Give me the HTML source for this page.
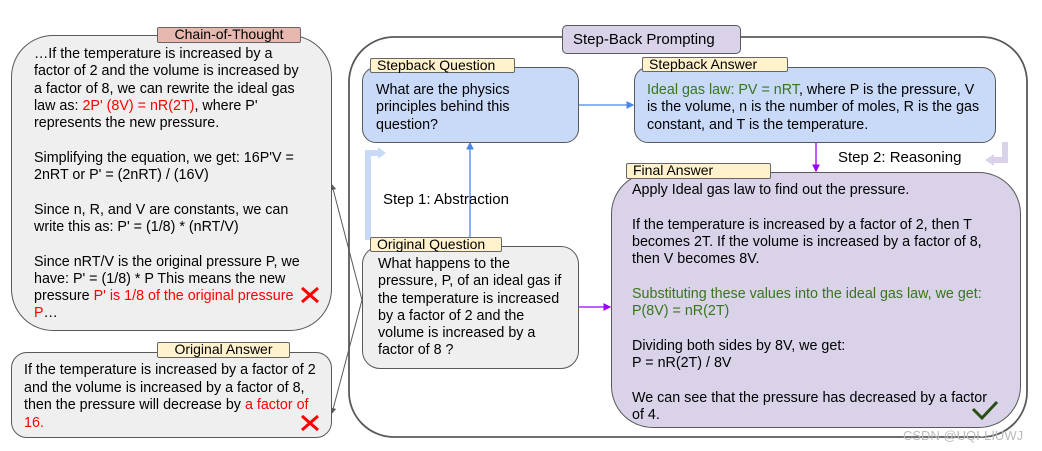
<!DOCTYPE html>
<html><head><meta charset="utf-8"><style>
body{margin:0;width:1042px;height:451px;background:#fff;position:relative;overflow:hidden;font-family:"Liberation Sans",Arial,sans-serif;font-size:14.3px;color:#000}
.b{position:absolute;box-sizing:border-box;border:1.5px solid #595959}
.t{position:absolute;line-height:17.3px;white-space:nowrap;margin-top:2px}
.lab{position:absolute;box-sizing:border-box;border:1.3px solid #666;background:#fff2cc;font-size:14px;line-height:13px;padding-left:6px;border-radius:2px}
.r{color:#f00}.g{color:#38761d}
svg.top{z-index:5}
</style></head><body>
<svg width="1042" height="451" style="position:absolute;left:0;top:0">
<defs>
<marker id="ab" markerWidth="6" markerHeight="6" refX="5" refY="3" orient="auto"><path d="M0,0L6,3L0,6z" fill="#4a86e8"/></marker>
<marker id="ap" markerWidth="6" markerHeight="6" refX="5" refY="3" orient="auto"><path d="M0,0L6,3L0,6z" fill="#9900ff"/></marker>
<marker id="ag" markerWidth="6" markerHeight="6" refX="5" refY="3" orient="auto"><path d="M0,0L6,3L0,6z" fill="#595959"/></marker>
</defs>
<rect x="349" y="37" width="678" height="400" rx="45" fill="none" stroke="#595959" stroke-width="1.8"/>
<line x1="578" y1="105" x2="633" y2="105" stroke="#4a86e8" stroke-width="1.3" marker-end="url(#ab)"/>
<line x1="470" y1="246" x2="470" y2="143" stroke="#4a86e8" stroke-width="1.3" marker-end="url(#ab)"/>
<line x1="816" y1="143" x2="816" y2="171" stroke="#9900ff" stroke-width="1.3" marker-end="url(#ap)"/>
<line x1="579" y1="307" x2="610" y2="307" stroke="#9900ff" stroke-width="1.3" marker-end="url(#ap)"/>
<path d="M368,240 V153 H380" fill="none" stroke="#c9daf8" stroke-width="6"/>
<path d="M378,147 L386,153 L378,159z" fill="#c9daf8"/>
<path d="M1005,142 V160 H992" fill="none" stroke="#d9d2e9" stroke-width="6"/>
<path d="M994,154 L985,160 L994,166z" fill="#d9d2e9"/>
<line x1="362" y1="300" x2="332" y2="185" stroke="#595959" stroke-width="1" marker-end="url(#ag)"/>
<line x1="362" y1="300" x2="332" y2="413" stroke="#595959" stroke-width="1" marker-end="url(#ag)"/>
</svg>
<div class="b" style="left:11px;top:35px;width:321px;height:296px;border-radius:42px;background:#efefef"></div>
<div class="lab" style="left:157px;top:27px;width:144px;height:16px;background:#e6b8af;text-align:center;padding:0">Chain-of-Thought</div>
<div class="t" style="left:34px;top:44px">…If the temperature is increased by a<br>factor of 2 and the volume is increased by<br>a factor of 8, we can rewrite the ideal gas<br>law as: <span class="r">2P' (8V) = nR(2T)</span>, where P'<br>represents the new pressure.<br><br>Simplifying the equation, we get: 16P'V =<br>2nRT or P' = (2nRT) / (16V)<br><br>Since n, R, and V are constants, we can<br>write this as: P' = (1/8) * (nRT/V)<br><br>Since nRT/V is the original pressure P, we<br>have: P' = (1/8) * P This means the new<br>pressure <span class="r">P' is 1/8 of the original pressure<br>P</span>…</div>
<div class="b" style="left:11px;top:352px;width:321px;height:86px;border-radius:16px;background:#efefef"></div>
<div class="lab" style="left:157px;top:342px;width:133px;height:16px;text-align:center;padding:0">Original Answer</div>
<div class="t" style="left:24px;top:360px;line-height:17.7px">If the temperature is increased by a factor of 2<br>and the volume is increased by a factor of 8,<br>then the pressure will decrease by <span class="r">a factor of<br>16.</span></div>
<div class="b" style="left:562px;top:25px;width:179px;height:29px;border-radius:5px;background:#d9d2e9;font-size:15px;line-height:27px;padding-left:10px">Step-Back Prompting</div>
<div class="b" style="left:362px;top:67px;width:217px;height:76px;border-radius:14px;background:#c9daf8"></div>
<div class="lab" style="left:370px;top:58px;width:145px;height:15px">Stepback Question</div>
<div class="t" style="left:376px;top:80px">What are the physics<br>principles behind this<br>question?</div>
<div class="b" style="left:634px;top:67px;width:362px;height:76px;border-radius:14px;background:#c9daf8"></div>
<div class="lab" style="left:642px;top:57px;width:146px;height:15px">Stepback Answer</div>
<div class="t" style="left:647px;top:80px"><span class="g">Ideal gas law: PV = nRT</span>, where P is the pressure, V<br>is the volume, n is the number of moles, R is the gas<br>constant, and T is the temperature.</div>
<div class="t" style="left:838px;top:147px;font-size:15px">Step 2: Reasoning</div>
<div class="t" style="left:383px;top:189px;font-size:15px">Step 1: Abstraction</div>
<div class="b" style="left:362px;top:246px;width:217px;height:123px;border-radius:18px;background:#efefef"></div>
<div class="lab" style="left:370px;top:237px;width:132px;height:15px">Original Question</div>
<div class="t" style="left:378px;top:254px">What happens to the<br>pressure, P, of an ideal gas if<br>the temperature is increased<br>by a factor of 2 and the<br>volume is increased by a<br>factor of 8 ?</div>
<div class="b" style="left:611px;top:172px;width:410px;height:256px;border-radius:42px;background:#d9d2e9"></div>
<div class="lab" style="left:626px;top:163px;width:145px;height:16px">Final Answer</div>
<div class="t" style="left:632px;top:180px">Apply Ideal gas law to find out the pressure.<br><br>If the temperature is increased by a factor of 2, then T<br>becomes 2T. If the volume is increased by a factor of 8,<br>then V becomes 8V.<br><br><span class="g">Substituting these values into the ideal gas law, we get:<br>P(8V) = nR(2T)</span><br><br>Dividing both sides by 8V, we get:<br>P = nR(2T) / 8V<br><br>We can see that the pressure has decreased by a factor<br>of 4.</div>
<div class="t" style="left:903px;top:425px;color:#bbb;font-size:13px">CSDN @UQI-LIUWJ</div>
<svg class="top" width="1042" height="451" style="position:absolute;left:0;top:0">
<path d="M302,288 L318,302 M318,288 L302,302" stroke="#f00" stroke-width="3"/>
<path d="M302,416 L318,430 M318,416 L302,430" stroke="#f00" stroke-width="3"/>
<path d="M973,409 L982,418 L997,402" fill="none" stroke="#274e13" stroke-width="3"/>
</svg>
</body></html>
